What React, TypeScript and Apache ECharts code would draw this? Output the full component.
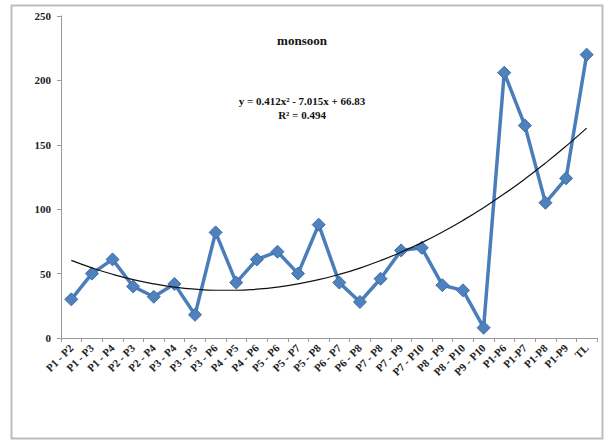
import React, { useEffect, useRef } from "react";
import * as echarts from "echarts";

const categories = [
  "P1 - P2", "P1 - P3", "P1 - P4", "P2 - P3", "P2 - P4", "P3 - P4", "P3 - P5",
  "P3 - P6", "P4 - P5", "P4 - P6", "P5 - P6", "P5 - P7", "P5 - P8", "P6 - P7",
  "P6 - P8", "P7 - P8", "P7 - P9", "P7 - P10", "P8 - P9", "P8 - P10", "P9 - P10",
  "P1-P6", "P1-P7", "P1-P8", "P1-P9", "TL",
];

const monsoonValues = [
  30, 50, 61, 40, 32, 42, 18, 82, 43, 61, 67, 50, 88, 43, 28, 46, 68, 70, 41, 37,
  8, 206, 165, 105, 124, 220,
];

// Polynomial (order 2) trendline coefficients as printed on the chart
const trendA = 0.412;
const trendB = -7.015;
const trendC = 66.83;
const trendR2 = 0.494;

const yTicks = [0, 50, 100, 150, 200, 250];

const SERIF = "'Liberation Serif', 'Times New Roman', serif";

export default function App() {
  const ref = useRef<HTMLDivElement>(null);

  useEffect(() => {
    if (!ref.current) return;
    const chart = echarts.init(ref.current, undefined, { renderer: "svg" });

    const trend = categories.map((_, i) => {
      const x = i + 1;
      return +(trendA * x * x + trendB * x + trendC).toFixed(2);
    });

    chart.setOption({
      animation: false,
      backgroundColor: "#ffffff",
      grid: { left: 61, right: 10, top: 16, bottom: 103, containLabel: false },
      xAxis: {
        type: "category",
        data: categories,
        boundaryGap: true,
        axisLine: { show: true, lineStyle: { color: "#9a9a9a", width: 1 } },
        axisTick: { show: true, length: 4, alignWithLabel: false, lineStyle: { color: "#9a9a9a" } },
        axisLabel: {
          interval: 0,
          rotate: 45,
          fontFamily: SERIF,
          fontWeight: "bold",
          fontSize: 11,
          color: "#222",
          margin: 8,
        },
      },
      yAxis: {
        type: "value",
        min: yTicks[0],
        max: yTicks[yTicks.length - 1],
        interval: 50,
        axisLine: { show: true, lineStyle: { color: "#9a9a9a", width: 1 } },
        axisTick: { show: true, length: 4, lineStyle: { color: "#9a9a9a" } },
        splitLine: { show: false },
        axisLabel: {
          fontFamily: SERIF,
          fontWeight: "bold",
          fontSize: 11,
          color: "#222",
          margin: 10,
        },
      },
      series: [
        {
          name: "monsoon",
          type: "line",
          data: monsoonValues,
          symbol: "diamond",
          symbolSize: 13,
          lineStyle: { color: "#4a7ebb", width: 3.5 },
          itemStyle: { color: "#4f81bd", borderColor: "#3e6fa8", borderWidth: 1 },
          z: 2,
        },
        {
          name: "trend",
          type: "line",
          data: trend,
          smooth: true,
          showSymbol: false,
          symbol: "none",
          lineStyle: { color: "#111", width: 1.2 },
          z: 3,
        },
      ],
      graphic: [
        {
          type: "rect",
          shape: { x: 11.5, y: 5.5, width: 591, height: 433 },
          style: { fill: "none", stroke: "#bdbdbd", lineWidth: 2 },
          silent: true,
        },
        {
          type: "text",
          x: 302,
          y: 40,
          style: {
            text: "monsoon",
            fontFamily: SERIF,
            fontWeight: "bold",
            fontSize: 13,
            fill: "#111",
            textAlign: "center",
            textVerticalAlign: "middle",
          },
        },
        {
          type: "text",
          x: 302,
          y: 101,
          style: {
            text: `y = ${trendA}x² - ${Math.abs(trendB).toFixed(3)}x + ${trendC}`,
            fontFamily: SERIF,
            fontWeight: "bold",
            fontSize: 11,
            fill: "#111",
            textAlign: "center",
            textVerticalAlign: "middle",
          },
        },
        {
          type: "text",
          x: 302,
          y: 115,
          style: {
            text: `R² = ${trendR2}`,
            fontFamily: SERIF,
            fontWeight: "bold",
            fontSize: 11,
            fill: "#111",
            textAlign: "center",
            textVerticalAlign: "middle",
          },
        },
      ],
    });

    return () => chart.dispose();
  }, []);

  return (
    <div style={{ position: "fixed", left: 0, top: 0, width: 607, height: 441, background: "#fff" }}>
      <div ref={ref} style={{ width: 607, height: 441 }} />
    </div>
  );
}
